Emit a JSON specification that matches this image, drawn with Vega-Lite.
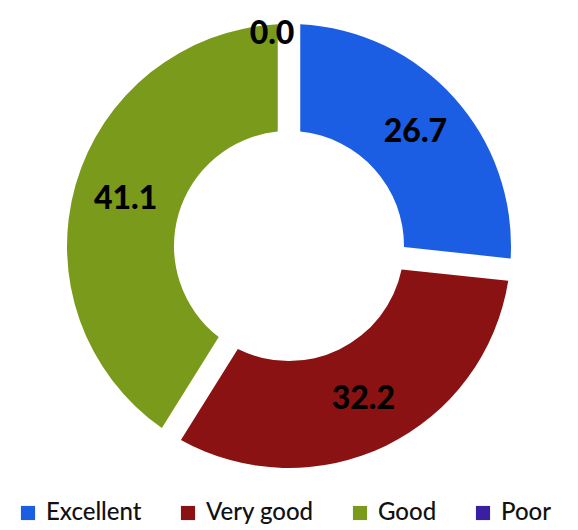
{
  "$schema": "https://vega.github.io/schema/vega-lite/v6.json",
  "width": 578,
  "height": 492,
  "padding": {"top": 0, "left": 0, "right": 0, "bottom": 38},
  "autosize": "none",
  "background": "white",
  "config": {"view": {"stroke": null}},
  "data": {
    "values": [
      {"category": "Excellent", "value": 26.7, "idx": 1},
      {"category": "Very good", "value": 32.2, "idx": 2},
      {"category": "Good", "value": 41.1, "idx": 3},
      {"category": "Poor", "value": 0.0, "idx": 4}
    ]
  },
  "encoding": {
    "theta": {"field": "value", "type": "quantitative", "stack": true},
    "order": {"field": "idx", "type": "quantitative"}
  },
  "layer": [
    {
      "mark": {"type": "arc", "outerRadius": 222, "innerRadius": 115, "padAngle": 0.09},
      "encoding": {
        "color": {
          "field": "category",
          "type": "nominal",
          "sort": ["Excellent", "Very good", "Good", "Poor"],
          "scale": {
            "domain": ["Excellent", "Very good", "Good", "Poor"],
            "range": ["#1b5ee3", "#8a1212", "#7a9a1c", "#3a1fa3"]
          },
          "legend": {
            "title": null,
            "orient": "none",
            "legendX": 16,
            "legendY": 501,
            "direction": "horizontal",
            "symbolType": "square",
            "symbolSize": 200,
            "symbolStrokeWidth": 0,
            "labelFont": "Lato",
            "labelFontSize": 24,
            "labelFontWeight": 500,
            "labelColor": "#111111",
            "labelOffset": 6,
            "columnPadding": 34,
            "symbolOffset": 0
          }
        }
      }
    },
    {
      "transform": [{"filter": "datum.value > 0"}],
      "mark": {"type": "text", "radius": 170, "font": "Lato", "fontSize": 32, "fontWeight": 900},
      "encoding": {
        "text": {"field": "value", "type": "quantitative", "format": ".1f"},
        "color": {"value": "#000000"}
      }
    },
    {
      "transform": [{"filter": "datum.value == 0"}],
      "mark": {"type": "text", "radius": 212, "dx": -17, "font": "Lato", "fontSize": 32, "fontWeight": 900},
      "encoding": {
        "text": {"field": "value", "type": "quantitative", "format": ".1f"},
        "color": {"value": "#000000"}
      }
    }
  ]
}
